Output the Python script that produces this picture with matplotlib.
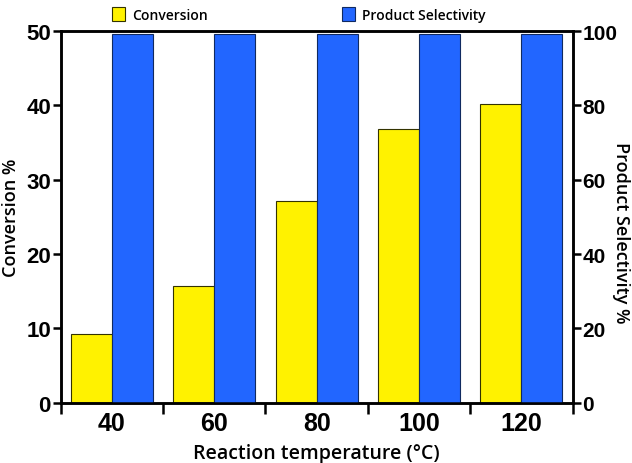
import numpy as np
import matplotlib.pyplot as plt

# data
temperatures = ['40', '60', '80', '100', '120']
conversion = [9.3, 15.7, 27.1, 36.8, 40.2]
selectivity = [99.2, 99.2, 99.2, 99.2, 99.2]

yellow = '#FFF200'
blue = '#2266FF'

fig = plt.figure(figsize=(6.32, 4.64), dpi=100)
ax1 = fig.add_axes([0.096, 0.130, 0.810, 0.801])
ax2 = ax1.twinx()

x = np.arange(len(temperatures))
w = 0.4
ax1.bar(x - w / 2, conversion, w, color=yellow, edgecolor='#333300', linewidth=0.8, label='Conversion')
ax2.bar(x + w / 2, selectivity, w, color=blue, edgecolor='#102a60', linewidth=0.8, label='Product Selectivity')

ax1.set_xlim(-0.5, len(x) - 0.5)
ax1.set_ylim(0, 50)
ax2.set_ylim(0, 100)
ax1.set_yticks(np.arange(0, 51, 10))
ax2.set_yticks(np.arange(0, 101, 20))

# boundary ticks, labels at group centres
ax1.set_xticks(np.arange(-0.5, len(x), 1.0))
ax1.set_xticklabels([])
ax1.set_xticks(x, minor=True)
ax1.set_xticklabels(temperatures, minor=True)
ax1.tick_params(axis='x', which='minor', length=0, pad=6)
ax1.tick_params(axis='x', which='major', length=8, width=1.8, direction='out')

tick_font = dict(family='Liberation Sans', weight='bold')
for lab in ax1.get_xticklabels(minor=True):
    lab.set_fontsize(18)
    lab.set(**tick_font)
for lab in ax1.get_yticklabels():
    lab.set_fontsize(16)
    lab.set(**tick_font)
for lab in ax2.get_yticklabels():
    lab.set_fontsize(15)
    lab.set(**tick_font)

ax1.tick_params(axis='y', length=6, width=1.8, pad=1)
ax2.tick_params(axis='y', length=6, width=1.8, pad=1)

for ax in (ax1, ax2):
    for s in ax.spines.values():
        s.set_linewidth(1.8)

label_font = dict(family='Open Sans', weight='semibold', fontsize=13)
ax1.set_ylabel('Conversion %', va='center', **label_font)
ax1.yaxis.set_label_coords(-0.098, 0.5)
ax2.set_ylabel('Product Selectivity %', rotation=270, va='center', **label_font)
ax2.yaxis.set_label_coords(1.095, 0.46)
ax1.set_xlabel('Reaction temperature (°C)', labelpad=6, fontsize=14,
               family='Open Sans', weight='semibold')

h1, l1 = ax1.get_legend_handles_labels()
h2, l2 = ax2.get_legend_handles_labels()
fig.legend(h1 + h2, l1 + l2, loc='upper left', bbox_to_anchor=(0.158, 1.01), ncol=2,
           frameon=False, columnspacing=9.7, handlelength=0.9, handleheight=1.2,
           handletextpad=0.5, prop=dict(family='Open Sans', weight='semibold', size=10))

fig.savefig('out.png', dpi=100)
